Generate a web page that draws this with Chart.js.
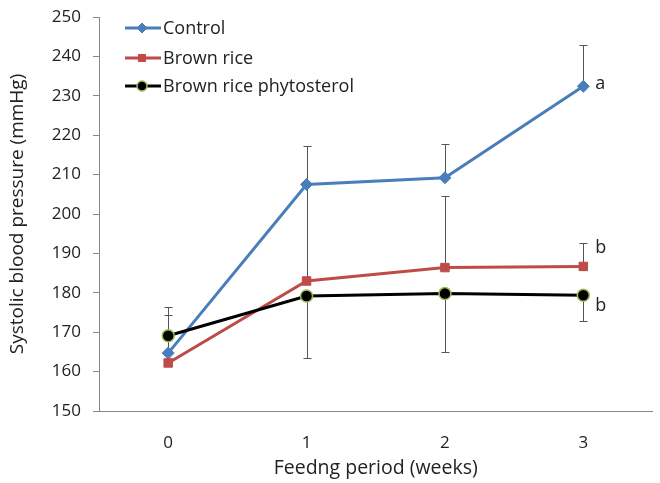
<!DOCTYPE html>
<html>
<head>
<meta charset="utf-8">
<script src="https://cdn.jsdelivr.net/npm/chart.js@4.4.1/dist/chart.umd.min.js"></script>
<style>
  html, body { margin: 0; padding: 0; background: #fff; }
  #wrap { width: 660px; height: 483px; }
</style>
</head>
<body>
<div id="wrap"><canvas id="myChart" width="660" height="483"></canvas></div>
<script>
const weeks = ["0", "1", "2", "3"];
const seriesNames = ["Control", "Brown rice", "Brown rice phytosterol"];
const control = [164.7, 207.5, 209.2, 232.4];
const brownRice = [162.2, 183.0, 186.4, 186.7];
const phytosterol = [169.1, 179.2, 179.8, 179.4];
// error bars: Control and Brown rice show the upper half, phytosterol the lower half
const controlErr = [9.7, 9.8, 8.5, 10.4];
const brownRiceErr = [14.1, 24.5, 18.1, 6.0];
const phytosterolErr = [4.0, 15.7, 14.8, 6.6];
const sigLetters = ["a", "b", "b"];
const yTicks = [150, 160, 170, 180, 190, 200, 210, 220, 230, 240, 250];

const FONT = "'Open Sans', sans-serif";
const ctx = document.getElementById("myChart").getContext('2d');

const errSets = [
  { data: controlErr, dir: 1 },
  { data: brownRiceErr, dir: 1 },
  { data: phytosterolErr, dir: -1 }
];

const errorBars = {
  id: 'errorBars',
  beforeDatasetsDraw(chart) {
    const c = chart.ctx;
    const y = chart.scales.y;
    c.save();
    c.strokeStyle = '#555';
    c.lineWidth = 1;
    errSets.forEach((e, di) => {
      const meta = chart.getDatasetMeta(di);
      meta.data.forEach((pt, i) => {
        const v = chart.data.datasets[di].data[i];
        const y0 = y.getPixelForValue(v);
        const y1 = Math.round(y.getPixelForValue(v + e.dir * e.data[i])) + 0.5;
        const x = Math.round(pt.x) + 0.5;
        c.beginPath();
        c.moveTo(x, y0);
        c.lineTo(x, y1);
        c.moveTo(x - 4, y1);
        c.lineTo(x + 4, y1);
        c.stroke();
      });
    });
    c.restore();
  },
  afterDatasetsDraw(chart) {
    const c = chart.ctx;
    const dy = [-2, -19, 11];
    c.save();
    c.fillStyle = '#222';
    c.font = '18px ' + FONT;
    c.textBaseline = 'middle';
    sigLetters.forEach((s, di) => {
      const pts = chart.getDatasetMeta(di).data;
      const pt = pts[pts.length - 1];
      c.fillText(s, pt.x + 12, pt.y + dy[di]);
    });
    c.restore();
  }
};

// legend drawn inside the plot, top-left
const innerLegend = {
  id: 'innerLegend',
  afterDraw(chart) {
    const c = chart.ctx;
    const rows = [28, 58, 86];
    c.save();
    c.font = '18px ' + FONT;
    c.textBaseline = 'middle';
    chart.data.datasets.forEach((ds, i) => {
      const yy = rows[i];
      c.strokeStyle = ds.borderColor;
      c.lineWidth = 3;
      c.beginPath();
      c.moveTo(125, yy);
      c.lineTo(161, yy);
      c.stroke();
      c.fillStyle = ds.pointBackgroundColor;
      c.strokeStyle = ds.pointBorderColor;
      c.lineWidth = ds.pointBorderWidth;
      Chart.helpers.drawPoint(c, {
        pointStyle: ds.pointStyle,
        radius: ds.pointRadius - 1,
        borderWidth: ds.pointBorderWidth
      }, 142, yy);
      c.fillStyle = '#222';
      c.fillText(ds.label, 163, yy + 1);
    });
    c.restore();
  }
};

const myChart = new Chart(ctx, {
  type: 'line',
  data: {
    labels: weeks,
    datasets: [{
      label: seriesNames[0],
      data: control,
      borderColor: "#4A7EBB",
      borderWidth: 3,
      pointStyle: 'rectRot',
      pointRadius: 6,
      pointBackgroundColor: "#4A7EBB",
      pointBorderColor: "#4A7EBB",
      pointBorderWidth: 1,
      order: 3
    }, {
      label: seriesNames[1],
      data: brownRice,
      borderColor: "#BE4B48",
      borderWidth: 3,
      pointStyle: 'rect',
      pointRadius: 6,
      pointBackgroundColor: "#BE4B48",
      pointBorderColor: "#BE4B48",
      pointBorderWidth: 1,
      order: 2
    }, {
      label: seriesNames[2],
      data: phytosterol,
      borderColor: "#000000",
      borderWidth: 3,
      pointStyle: 'circle',
      pointRadius: 6,
      pointBackgroundColor: "#000000",
      pointBorderColor: "#9BBB59",
      pointBorderWidth: 1.5,
      order: 1
    }]
  },
  options: {
    responsive: false,
    animation: false,
    layout: { padding: { top: 17, right: 5, left: 0, bottom: 0 } },
    plugins: {
      legend: { display: false },
      tooltip: { enabled: false }
    },
    scales: {
      x: {
        offset: true,
        grid: { display: false },
        border: { color: '#888', width: 1 },
        ticks: { color: '#222', font: { family: FONT, size: 17 }, padding: 14 },
        title: {
          display: true,
          text: 'Feedng period (weeks)',
          color: '#222',
          font: { family: FONT, size: 19.5 },
          padding: { top: 3, bottom: 3 }
        },
        afterFit(scale) { scale.height = 72; scale.paddingLeft = 0; scale.paddingRight = 0; }
      },
      y: {
        min: 150,
        max: 250,
        afterBuildTicks(scale) { scale.ticks = yTicks.map(v => ({ value: v })); },
        grid: { drawOnChartArea: false, tickLength: 6, color: '#888' },
        border: { color: '#888', width: 1 },
        ticks: { color: '#222', font: { family: FONT, size: 17 }, padding: 12 },
        title: {
          display: true,
          text: 'Systolic blood pressure (mmHg)',
          color: '#222',
          font: { family: FONT, size: 19 },
          padding: { top: 6, bottom: 0 }
        },
        afterFit(scale) { scale.width = 99; scale.paddingTop = 0; scale.paddingBottom = 0; }
      }
    }
  },
  plugins: [errorBars, innerLegend]
});
</script>
</body>
</html>
